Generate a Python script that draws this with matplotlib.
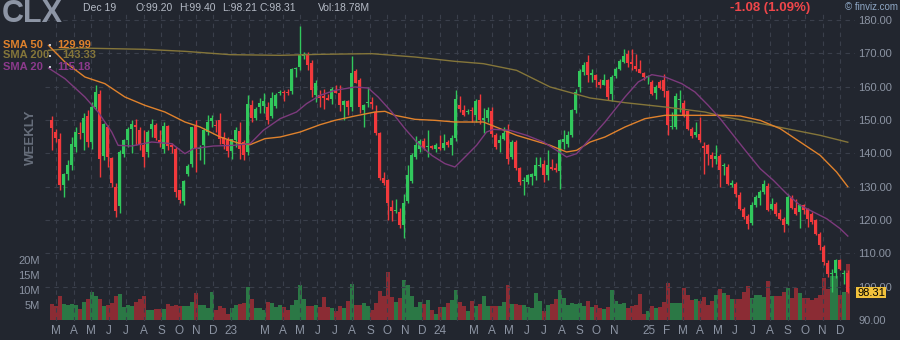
import numpy as np
import matplotlib.pyplot as plt
import pandas as pd
from matplotlib.patches import Rectangle

plt.rcParams['font.family'] = ['Liberation Sans', 'DejaVu Sans']

# CLX weekly candles, Feb 2022 - Dec 2025
weeks = pd.date_range(end='2025-12-15', periods=200, freq='W-MON')

opens = [150.1, 146.4, 144.4, 130.6, 133.9, 136.4, 141.9, 146.1, 146.2, 151.2,
         143.4, 153.9, 157.9, 139.2, 147.9, 138.7, 130.0, 124.2, 139.9, 143.9,
         147.4, 148.4, 146.9, 142.6, 140.4, 147.2, 148.4, 144.1, 141.2, 148.1,
         142.4, 141.4, 128.9, 125.6, 133.9, 136.9, 148.2, 141.4, 142.4, 146.4,
         149.6, 148.6, 149.9, 144.9, 143.9, 140.6, 144.1, 146.7, 143.4, 140.4,
         154.4, 150.6, 153.9, 154.2, 153.9, 151.2, 154.2, 158.0, 158.2, 158.4,
         158.7, 165.2, 165.9, 169.3, 169.4, 167.0, 157.4, 157.4, 157.2, 156.6,
         156.2, 158.7, 158.2, 154.4, 155.7, 153.9, 164.6, 162.1, 152.9, 155.2,
         155.4, 152.4, 146.1, 132.7, 131.9, 123.9, 122.6, 122.4, 118.4, 125.6,
         131.6, 138.9, 141.2, 143.6, 141.8, 142.1, 141.2, 141.9, 141.6, 143.4,
         142.6, 144.6, 154.4, 152.9, 152.4, 152.6, 151.6, 155.9, 149.9, 150.6,
         152.6, 145.6, 143.2, 144.2, 146.6, 138.9, 143.4, 135.6, 131.6, 131.4,
         132.9, 133.2, 136.2, 136.9, 133.4, 135.9, 135.6, 134.6, 143.4, 142.9,
         145.6, 152.9, 159.9, 164.4, 167.4, 163.4, 163.4, 161.4, 160.6, 161.9,
         157.9, 163.2, 165.2, 167.4, 169.9, 167.4, 166.2, 165.2, 164.1, 162.9,
         161.4, 158.2, 161.4, 161.9, 158.6, 147.9, 147.9, 156.1, 155.2, 152.6,
         147.4, 145.4, 145.9, 142.1, 142.4, 139.4, 138.2, 139.2, 136.2, 135.9,
         130.6, 130.9, 127.4, 123.4, 121.2, 119.2, 124.4, 126.6, 128.4, 130.2,
         123.4, 124.9, 122.1, 120.4, 118.9, 126.6, 123.6, 122.4, 124.6, 123.2,
         121.9, 119.9, 115.9, 111.9, 107.2, 103.7, 104.2, 107.9, 103.9, 104.2]
highs = [151.2, 147.4, 146.0, 134.0, 138.0, 145.0, 147.9, 149.4, 152.0, 153.0,
         155.4, 160.4, 159.0, 149.0, 148.4, 139.0, 131.0, 141.0, 144.4, 148.0,
         150.0, 150.2, 148.0, 147.0, 147.0, 150.4, 149.0, 147.0, 149.5, 148.5,
         143.0, 142.0, 129.0, 131.9, 136.9, 148.0, 149.9, 142.4, 147.5, 151.6,
         151.4, 150.0, 152.2, 146.4, 145.0, 144.4, 148.0, 149.4, 144.0, 157.6,
         155.9, 154.0, 156.5, 158.0, 155.4, 158.5, 158.0, 158.9, 158.9, 159.2,
         165.5, 165.9, 178.2, 170.4, 170.4, 168.0, 162.0, 158.9, 159.4, 157.9,
         159.9, 160.4, 160.4, 156.0, 156.0, 169.1, 165.4, 162.5, 154.9, 159.9,
         156.9, 154.5, 146.4, 134.4, 132.4, 125.9, 126.4, 123.6, 127.9, 136.4,
         140.0, 145.2, 144.4, 144.6, 146.9, 142.6, 143.0, 145.6, 145.9, 144.0,
         145.4, 158.9, 157.2, 154.6, 153.4, 153.9, 156.2, 157.9, 153.6, 153.9,
         153.9, 146.0, 145.4, 148.0, 148.9, 144.0, 143.9, 136.0, 133.0, 133.9,
         134.0, 138.9, 138.9, 138.0, 141.0, 138.4, 137.0, 144.4, 147.0, 146.6,
         153.4, 159.4, 165.4, 167.4, 169.4, 165.2, 163.9, 162.4, 163.9, 162.4,
         163.5, 166.0, 168.4, 171.2, 170.9, 171.2, 169.9, 167.9, 164.5, 163.6,
         161.9, 160.4, 161.9, 163.9, 159.0, 152.4, 158.0, 158.9, 155.9, 153.0,
         148.0, 149.4, 150.9, 143.4, 142.9, 140.4, 142.4, 139.9, 137.2, 136.9,
         131.9, 131.4, 128.4, 124.0, 121.9, 125.4, 127.6, 128.9, 131.9, 131.0,
         126.6, 125.4, 123.4, 121.0, 127.9, 127.4, 126.4, 124.9, 124.9, 123.6,
         122.4, 120.4, 116.4, 112.4, 107.9, 105.4, 108.4, 108.2, 105.0, 105.0]
lows = [141.0, 143.4, 129.0, 127.0, 132.0, 135.0, 140.4, 144.4, 141.0, 142.0,
        141.4, 153.0, 132.9, 138.0, 135.9, 130.0, 120.9, 122.0, 139.0, 142.0,
        140.0, 142.4, 141.0, 135.9, 139.0, 145.0, 144.0, 142.0, 140.0, 141.0,
        140.0, 127.0, 125.0, 124.6, 133.2, 135.9, 134.4, 138.0, 136.9, 145.4,
        148.0, 146.4, 142.9, 141.4, 138.9, 138.4, 142.0, 138.4, 137.9, 139.6,
        149.4, 150.0, 152.0, 152.0, 148.9, 150.5, 153.5, 157.4, 155.6, 157.4,
        157.9, 162.9, 165.0, 168.4, 165.0, 157.0, 155.5, 153.9, 153.4, 155.9,
        154.9, 158.0, 152.6, 149.9, 151.4, 152.6, 161.0, 152.0, 147.9, 154.0,
        153.4, 145.4, 132.0, 130.5, 119.9, 119.6, 122.0, 117.6, 114.6, 125.0,
        131.0, 138.4, 140.4, 140.9, 138.9, 141.2, 140.4, 140.9, 140.9, 142.0,
        139.4, 143.6, 152.4, 151.2, 151.9, 149.4, 149.4, 148.9, 146.2, 149.4,
        145.0, 141.4, 140.4, 143.9, 136.9, 138.4, 135.0, 130.5, 127.6, 130.9,
        130.4, 132.0, 135.9, 131.4, 132.0, 134.9, 134.4, 129.4, 141.4, 142.0,
        145.0, 152.0, 158.4, 163.6, 161.4, 161.4, 159.9, 159.6, 160.4, 155.9,
        155.6, 162.6, 164.9, 167.0, 165.9, 164.9, 164.6, 164.0, 162.0, 160.9,
        157.6, 156.4, 159.4, 156.9, 145.4, 147.4, 147.4, 152.4, 150.9, 147.0,
        144.6, 144.9, 143.4, 133.9, 136.4, 135.9, 136.9, 129.9, 133.4, 130.4,
        129.9, 126.9, 122.9, 120.4, 117.4, 118.6, 123.9, 124.4, 127.9, 122.6,
        122.9, 121.2, 119.9, 116.4, 118.4, 123.4, 121.4, 117.6, 121.9, 117.9,
        118.9, 115.4, 110.9, 106.4, 102.9, 98.4, 102.5, 104.9, 100.9, 98.21]
closes = [147.7, 144.7, 130.4, 133.7, 136.4, 142.7, 146.4, 145.7, 150.6, 143.4,
          153.9, 158.4, 138.4, 148.7, 138.9, 131.2, 122.6, 140.4, 143.9, 147.4,
          148.9, 147.9, 142.4, 138.9, 146.4, 148.7, 144.6, 143.2, 148.1, 142.1,
          141.9, 128.4, 125.9, 131.6, 136.2, 147.9, 141.2, 141.6, 146.9, 149.4,
          150.6, 148.2, 144.2, 142.9, 140.6, 144.2, 147.1, 141.2, 139.4, 154.7,
          150.6, 153.4, 155.2, 155.6, 149.9, 156.6, 157.6, 158.2, 157.9, 158.1,
          165.2, 165.6, 169.6, 169.9, 166.6, 158.9, 161.2, 156.6, 156.6, 156.1,
          159.2, 158.2, 154.4, 155.7, 153.9, 164.1, 161.2, 153.9, 154.4, 155.3,
          154.9, 146.2, 132.7, 131.2, 125.2, 122.6, 122.9, 118.4, 125.2, 133.6,
          139.4, 142.4, 143.6, 141.6, 142.0, 141.7, 142.6, 141.4, 143.2, 142.6,
          144.6, 156.2, 153.4, 151.4, 152.7, 152.4, 155.6, 149.9, 150.6, 152.9,
          145.9, 141.9, 143.9, 146.2, 138.4, 143.4, 135.6, 131.4, 131.9, 133.4,
          133.9, 136.4, 136.6, 133.4, 136.4, 135.4, 135.1, 143.9, 144.4, 145.6,
          152.9, 158.4, 164.6, 166.4, 163.4, 164.1, 161.9, 160.6, 161.9, 156.9,
          162.9, 165.2, 167.6, 169.2, 167.2, 166.9, 165.2, 164.2, 162.9, 163.0,
          157.9, 159.9, 159.6, 158.6, 148.4, 148.1, 157.2, 156.2, 151.4, 147.4,
          145.2, 146.4, 143.9, 141.6, 139.9, 138.4, 139.2, 134.9, 136.4, 130.9,
          131.2, 127.9, 123.4, 120.9, 118.9, 124.6, 126.9, 128.4, 130.9, 123.1,
          124.9, 121.9, 120.4, 118.4, 126.9, 123.6, 121.9, 124.6, 122.9, 120.4,
          119.4, 115.9, 112.6, 107.4, 103.9, 104.0, 107.9, 105.3, 104.1, 98.31]
# weekly volume, millions of shares
volumes = [5.4, 4.7, 8.0, 5.4, 4.9, 5.4, 4.9, 3.6, 6.0, 6.9,
           9.3, 8.0, 6.9, 4.7, 4.9, 5.8, 8.0, 8.8, 4.3, 4.9,
           4.7, 6.0, 6.9, 8.0, 3.2, 3.2, 3.8, 3.6, 3.8, 5.2,
           4.7, 4.9, 4.7, 4.7, 4.7, 6.0, 9.0, 4.9, 4.9, 4.0,
           9.3, 3.2, 4.7, 4.0, 2.1, 4.1, 4.9, 5.2, 5.8, 11.0,
           6.9, 4.0, 4.0, 3.2, 6.0, 5.8, 4.3, 4.9, 4.3, 3.2,
           4.9, 6.6, 11.6, 7.1, 4.7, 4.7, 4.9, 4.3, 7.7, 4.3,
           4.0, 3.0, 4.7, 4.0, 6.2, 12.1, 5.1, 5.1, 5.8, 4.7,
           3.4, 5.8, 9.6, 8.0, 16.0, 7.7, 6.0, 7.3, 13.4, 11.8,
           8.0, 4.3, 6.0, 5.4, 6.6, 3.4, 2.1, 4.3, 4.3, 5.8,
           6.6, 9.9, 6.0, 4.7, 3.0, 6.3, 4.7, 5.2, 8.0, 4.7,
           4.7, 4.7, 4.7, 6.0, 11.6, 5.4, 5.2, 4.9, 4.9, 4.3,
           4.1, 9.1, 6.2, 3.0, 4.9, 5.4, 7.1, 10.1, 7.5, 4.9,
           5.7, 5.2, 5.8, 4.7, 6.3, 4.3, 5.1, 4.1, 3.8, 4.3,
           10.1, 6.2, 5.4, 5.8, 4.0, 4.7, 4.9, 8.6, 2.1, 3.0,
           4.7, 4.1, 4.3, 6.0, 12.4, 5.8, 5.8, 5.8, 10.8, 8.2,
           6.6, 7.1, 6.3, 7.7, 5.1, 6.2, 8.2, 10.4, 9.0, 8.4,
           6.9, 6.9, 7.1, 9.3, 11.3, 7.5, 8.2, 8.2, 7.7, 12.9,
           8.0, 8.0, 8.0, 9.3, 10.7, 7.3, 10.7, 9.0, 7.4, 7.5,
           6.6, 7.3, 8.2, 13.9, 10.2, 14.8, 14.8, 8.3, 9.4, 18.78]

# moving averages, sampled along the week index
sma50_x = [-0.8, 3.3, 8.3, 13.3, 18.3, 23.3, 28.3, 33.3, 37.1, 42.1, 47.1, 49.6,
           53.3, 57.1, 62.1, 67.1, 70.8, 75.8, 80.8, 83.3, 85.8, 90.8, 95.8,
           100.8, 104.6, 107.9, 112.1, 116.2, 120.4, 124.6, 128.7, 131.2, 134.6,
           138.3, 143.3, 148.3, 153.3, 158.3, 163.3, 168.3, 172.1, 177.1, 182.1,
           187.1, 192.1, 196.2, 199]
sma50_y = [172.4, 167.4, 162.9, 160.9, 156.9, 154.4, 152.4, 149.4, 147.9, 144.9,
           142.9, 142.6, 144.4, 144.9, 146.4, 148.6, 149.9, 151.2, 152.4, 152.6,
           151.4, 150.2, 149.9, 149.4, 149.4, 149.4, 147.4, 145.4, 143.9, 142.4,
           140.4, 140.9, 143.4, 144.9, 147.9, 150.4, 151.4, 151.4, 151.4, 151.4,
           151.2, 149.9, 147.4, 143.4, 139.4, 134.4, 129.99]
sma200_x = [-0.8, 6.7, 15, 23.3, 33.3, 44.6, 57.1, 67.1, 80, 90.8, 100.8, 107.9,
            116.2, 124.6, 134.6, 143.3, 153.3, 163.3, 168.3, 175.4, 183.7,
            192.1, 199]
sma200_y = [170.9, 171.6, 171.4, 171.2, 170.6, 169.6, 169.4, 169.7, 169.9, 168.9,
            167.6, 166.9, 164.9, 159.9, 156.6, 155.2, 153.9, 152.4, 150.9, 149.4,
            147.4, 145.4, 143.33]
sma20_x = [-0.8, 3.3, 8.3, 11.6, 15, 16.6, 20, 25, 30, 33.3, 35.4, 40.4, 45.4,
           49.6, 52.9, 57.1, 61.2, 63.7, 67.1, 70.8, 75.8, 79.1, 81.6, 85, 88.3,
           91.6, 95, 98.3, 100.8, 102.9, 106.2, 108.7, 110.4, 114.6, 118.7,
           122.9, 126.2, 128.7, 131.2, 134.6, 138.3, 143.3, 146.6, 150, 153.3,
           157.5, 160.8, 164.1, 167.1, 170.4, 173.7, 177.1, 180.4, 183.7, 187.1,
           190.4, 193.7, 197.1, 199]
sma20_y = [165.6, 162.4, 156.9, 152.4, 146.4, 142.4, 142.2, 143.4, 142.9, 139.9,
           141.4, 142.2, 142.4, 142.9, 146.9, 150.4, 152.4, 154.9, 157.4, 158.9,
           159.9, 159.6, 156.9, 152.4, 147.4, 142.9, 139.4, 136.9, 135.9, 138.4,
           142.4, 146.4, 147.2, 146.9, 145.4, 143.4, 140.9, 138.9, 139.9, 144.4,
           149.4, 156.9, 161.4, 163.6, 162.9, 160.9, 158.4, 154.4, 150.4, 145.4,
           140.4, 135.4, 131.9, 127.9, 124.4, 122.4, 120.4, 117.4, 115.18]

BG = '#22262f'
GRID = '#3a3f4b'
TXT = '#8c94a3'
UP, DOWN = '#31c85c', '#f2393c'
VUP, VDOWN = '#2b7845', '#8b2c34'

o = np.array(opens); h = np.array(highs); l = np.array(lows); c = np.array(closes)
x = np.arange(len(c))
up = c >= o

fig = plt.figure(figsize=(9, 3.4), dpi=100, facecolor=BG)
rect = [45 / 900, 19 / 340, 810 / 900, 307 / 340]

# volume underneath, own scale on the left
axv = fig.add_axes(rect, facecolor=BG)
axv.bar(x, volumes, width=0.9, color=np.where(up, VUP, VDOWN), zorder=2)
axv.set_ylim(-0.33, 102)
axv.set_xlim(-1.675, 200.8)
axv.set_yticks([5, 10, 15, 20])
axv.set_yticklabels(['5M', '10M', '15M', '20M'])
axv.tick_params(axis='y', length=0, pad=3.6, labelsize=8, labelcolor=TXT)
axv.set_xticks([])
for s in axv.spines.values():
    s.set_visible(False)

ax = fig.add_axes(rect, facecolor='none')
ax.set_xlim(-1.675, 200.8)
ax.set_ylim(89.7, 181.8)

# dashed grid: price levels and month starts
for p in range(100, 190, 10):
    ax.axhline(p, color=GRID, lw=0.8, ls=(0, (4, 4)), zorder=0)

months = pd.date_range('2022-03-01', '2025-12-01', freq='MS')
mpos = (months - weeks[0]).days / 7
mlab = []
for m in months:
    if m.month == 1:
        lab = str(m.year)[2:]
    else:
        lab = m.strftime('%b')[0]
    if (m.year in (2023, 2024) and m.month == 2) or (m.year == 2024 and m.month == 12):
        lab = ''
    mlab.append(lab)
for p in mpos:
    ax.axvline(p, color=GRID, lw=0.8, ls=(0, (4, 4)), zorder=0)
ax.set_xticks(mpos)
ax.set_xticklabels(mlab)
ax.tick_params(axis='x', length=0, pad=3, labelsize=8.5, labelcolor=TXT)

# candles
ax.vlines(x, l, h, colors=np.where(up, UP, DOWN), lw=1, zorder=3)
body = np.where(np.abs(c - o) < 0.3, 0.3, c - o)
ax.bar(x, body, bottom=o, width=0.72, color=np.where(up, UP, DOWN), zorder=4)

# moving averages
ax.plot(sma200_x, sma200_y, color='#85763a', lw=1, zorder=5)
ax.plot(sma50_x, sma50_y, color='#e0822c', lw=1, zorder=5)
ax.plot(sma20_x, sma20_y, color='#7d3a7d', lw=1, zorder=5)

ax.yaxis.tick_right()
ax.set_yticks(range(90, 190, 10))
ax.set_yticklabels([f'{v:.2f}' for v in range(90, 190, 10)])
ax.tick_params(axis='y', length=0, pad=2.2, labelsize=8, labelcolor=TXT)
for s in ax.spines.values():
    s.set_visible(False)

# header
fig.text(2 / 900, 1 - 22.5 / 340, 'CLX', fontsize=22, fontweight='bold', color='#8d95a5', va='baseline')
fig.text(83 / 900, 1 - 8 / 340, 'Dec 19', fontsize=7.5, color='#b5bbc6', va='center')
for xp, t in [(135, 'O:99.20'), (179, 'H:99.40'), (222, 'L:98.21'), (260, 'C:98.31'), (318, 'Vol:18.78M')]:
    fig.text(xp / 900, 1 - 8 / 340, t, fontsize=7.5, color='#b5bbc6', va='center')
fig.text(810 / 900, 1 - 8 / 340, '-1.08 (1.09%)', fontsize=9.5, fontweight='bold', color='#f0464a', va='center', ha='right')
fig.text(898 / 900, 1 - 7 / 340, '© finviz.com', fontsize=7, color='#8fa8c6', va='center', ha='right')

# legend
for yp, name, val, vx, col in [(44.5, 'SMA 50', '129.99', 57, '#e0822c'),
                               (55.5, 'SMA 200', '143.33', 62, '#85763a'),
                               (66.5, 'SMA 20', '115.18', 57, '#8c3a8c')]:
    fig.text(3 / 900, 1 - yp / 340, name, fontsize=8, fontweight='bold', color=col, va='center')
    fig.text(vx / 900, 1 - yp / 340, val, fontsize=8, fontweight='bold', color=col, va='center')
    fig.add_artist(Rectangle((48.5 / 900, 1 - (yp + 1) / 340), 2 / 900, 2 / 340,
                             transform=fig.transFigure, color='#c8ccd4', lw=0))

fig.text(31 / 900, 1 - 137 / 340, 'WEEKLY', rotation=90, fontsize=9.5, fontweight='bold',
         color='#666d7a', va='center', ha='center')

# last price tag
fig.add_artist(Rectangle((856 / 900, 1 - 298 / 340), 30 / 900, 11 / 340,
                         transform=fig.transFigure, color='#f2c23c', lw=0))
fig.text(871 / 900, 1 - 292.5 / 340, '98.31', fontsize=8, color='black', va='center', ha='center')

fig.savefig('out.png', dpi=100, facecolor=BG)
